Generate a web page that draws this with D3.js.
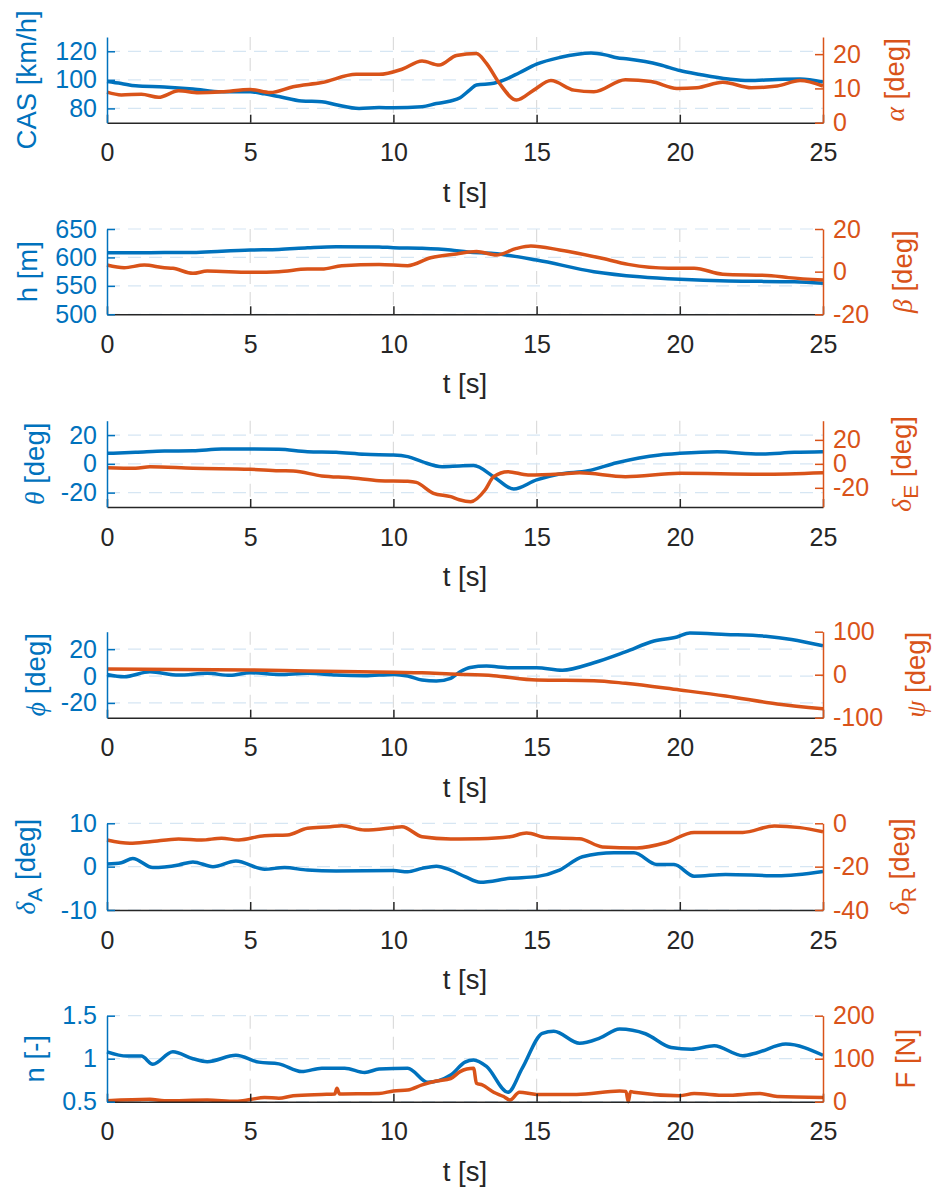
<!DOCTYPE html>
<html lang="en">
<head>
    <meta charset="UTF-8">
    <script src="https://d3js.org/d3.v7.min.js"></script>
    <title>Flight test</title>
    <style>
        body {
            margin: 0;
            overflow: hidden;
            background: white;
        }
        text {
            font-family: "Liberation Sans", Arial, sans-serif;
        }
    </style>
</head>
<body>
<script>
    const width = 933,
          height = 1192;

    const blue = '#0072BD',
          orange = '#D95319',
          dark = '#262626';

    // time axis
    const tDomain = [0, 25];
    const tTicks = [0, 5, 10, 15, 20, 25];
    const tLabel = 't [s]';

    // [t, value]
    const casData = [[0,98.9],[0.5,97.5],[1,95.8],[2,95],[3,93.6],[4,91.6],[5,91.6],[5.5,90.2],[6,88.3],[6.8,85.2],[7.5,84.7],[8,82.6],[8.8,80],[9.5,80.6],[10,80.5],[11,81.2],[11.5,83.4],[12,85.2],[12.33,87.5],[12.67,93],[12.9,96.4],[13.5,97.6],[13.85,99.8],[14.4,105],[15,111],[15.8,115.6],[16.9,118.8],[17.4,117.5],[17.8,115.5],[18.2,114.6],[19.3,110.6],[20,106.5],[20.7,103.8],[21.7,100.6],[22.4,99.5],[23.4,100.3],[24.2,100.6],[25,98.5]];
    const alphaData = [[0,8.9],[0.5,8.1],[1.2,8.3],[1.8,7.4],[2.5,9.3],[3.2,8.75],[4,9],[5,9.7],[5.7,8.8],[6.5,10.5],[7.5,11.7],[8.7,14.1],[9.5,14.1],[10.3,15.6],[11,18],[11.6,16.8],[12.2,19.6],[12.9,20.2],[13.25,17.3],[13.7,11.5],[14.3,6.6],[14.9,9.5],[15.5,12.3],[16.3,9.5],[17,9],[18.1,12.5],[19,12],[19.9,10],[20.6,10.2],[21.5,11.8],[22.5,10.2],[23.4,10.7],[24.2,12.3],[25,10.7]];

    const hData = [[0,608.3],[1,608.3],[2,608.5],[3,608.5],[4,611],[5,613],[6,614],[7,617],[8,619],[9.5,618.5],[10,617],[11,616],[12,613],[12.6,609.5],[13.5,607],[15,595.5],[17,575],[18.6,566],[20,561.5],[21.7,558.5],[24,557.3],[25,554.5]];
    const betaData = [[0,3.1],[0.6,1.85],[1.3,3.1],[2,1.85],[2.3,1.6],[3,-0.8],[3.5,0.3],[5,-0.3],[6,0],[7,1.2],[7.5,1.2],[8.2,2.8],[9.5,3.4],[10.5,2.8],[11.3,6.5],[12.2,8.3],[12.9,9.4],[13.6,7.8],[14.3,10.9],[14.8,12],[15.8,10.2],[17.2,6.5],[18.2,3.4],[19.6,1.6],[20.5,1.6],[21.5,-1.2],[23.2,-1.9],[23.8,-2.8],[25,-3.9]];

    const thetaData = [[0,7.3],[1,8],[2,8.9],[3,9.1],[4,10.3],[5,10.3],[6,10.1],[7,8.4],[8,8],[9,6.6],[10,6.2],[10.5,5],[11,1.5],[11.7,-2],[12.3,-1.5],[12.8,-1.2],[13.5,-8.9],[14.2,-17.5],[15,-11.2],[15.8,-7.1],[16.8,-4.8],[17.8,0.8],[19.3,6.2],[20,7.3],[21.3,8.4],[22.8,6.8],[24,8],[25,8.4]];
    const elevData = [[0,-3.2],[1,-3.7],[1.5,-2.4],[3,-3.7],[5,-4.5],[6,-5.7],[6.5,-5.9],[7.5,-10.1],[8.5,-11.6],[9.5,-14],[10.5,-14.5],[10.8,-15.5],[11.4,-24.6],[12,-27.4],[12.3,-30],[12.7,-31.6],[13.2,-21.8],[13.5,-10.7],[14,-6.5],[14.7,-9.3],[15.8,-8.5],[16.5,-7.4],[18.1,-10.7],[20,-7.9],[22.8,-8.7],[25,-7.4]];

    const phiData = [[0,1.2],[0.6,-0.5],[1.5,3.2],[2.5,0.7],[3.5,2],[4.3,0.5],[5,2.5],[6,1.2],[7,2],[8,0.7],[9,0.2],[10,1.2],[10.5,0],[11,-3],[11.5,-3.7],[12,-1.7],[12.33,3.2],[12.68,6.4],[13.25,7.4],[14.07,6.2],[15,6.2],[15.9,4.4],[17,9.9],[18.1,18],[19.1,26.1],[19.9,29.1],[20.35,32],[21.6,31],[23,29.6],[23.9,27.2],[25,22.5]];
    const psiData = [[0,13.3],[5,11],[7,8.6],[10,5.6],[11,4.7],[12,1.6],[13.5,-2.3],[15,-12.3],[17,-14],[18.1,-20],[20,-35.6],[21.6,-49.5],[23.4,-68],[25,-79]];

    const ailData = [[0,0.6],[0.5,0.9],[0.9,1.9],[1.6,-0.2],[2.5,0.4],[3,1.1],[3.7,0],[4.5,1.3],[5.5,-0.6],[6.2,-0.2],[7,-0.8],[8,-1],[10,-0.9],[10.5,-1.2],[11,-0.4],[11.5,0.1],[12,-0.8],[12.5,-2.3],[13.03,-3.6],[14.07,-2.7],[15,-2.3],[15.8,-0.8],[16.6,2.3],[17.7,3.2],[18.4,3.2],[19.2,0.5],[19.8,0.5],[20.5,-2.2],[21.6,-1.8],[23.4,-2.1],[25,-1.1]];
    const rudData = [[0,-7.7],[0.8,-9.2],[1.5,-8.5],[2.5,-7.2],[3.3,-7.7],[4,-6.9],[4.6,-7.7],[5.5,-5.7],[6.3,-5.4],[7,-2.3],[7.8,-1.6],[8.2,-1.1],[9,-3.1],[10,-2],[10.3,-1.6],[11,-6.2],[12,-7.2],[13,-7.1],[14.07,-6.2],[14.65,-4.5],[15.35,-6.6],[16.5,-7.1],[17.3,-10.9],[18.5,-11.4],[19.5,-9],[20.5,-4.2],[22.2,-4.2],[23.3,-1.2],[24.2,-2],[25,-3.9]];

    const nData = [[0,1.08],[0.7,1.03],[1.2,1.03],[1.6,0.935],[2.3,1.08],[3,1.0],[3.5,0.965],[4.5,1.04],[5.3,0.96],[6,0.94],[6.8,0.85],[7.5,0.89],[8.3,0.89],[9,0.84],[9.5,0.88],[10.5,0.89],[11.2,0.725],[12,0.81],[12.5,0.96],[12.8,0.985],[13.25,0.91],[14,0.61],[14.5,0.89],[15.2,1.295],[15.6,1.32],[16.5,1.18],[17.2,1.24],[17.9,1.345],[18.8,1.29],[19.7,1.13],[20.4,1.11],[21.2,1.15],[22.2,1.035],[22.7,1.07],[23.7,1.17],[25,1.04]];
    const forceData = [[0,2],[1.5,5.6],[2,2],[3.5,4],[4.5,1],[5,5],[5.5,10],[6,8],[6.5,14],[7.5,17],[7.95,18],[8.03,31],[8.12,18],[9,18.6],[9.5,19],[10,25],[10.5,27],[11,39],[11.5,48],[12,54],[12.33,70],[12.56,76],[12.8,78],[12.9,43],[13.1,39],[13.5,22],[13.85,12],[14.07,4],[14.4,22],[15,17],[16.4,17],[17.9,25],[18.12,24],[18.2,0],[18.28,24],[18.4,22],[20,14],[20.5,19],[21.6,15],[22.8,19],[23.4,12],[25,10]];

    // y domains and ticks, left / right
    const leftDomains = [[70,130],[500,650],[-30,30],[-31,33],[-10,10],[0.5,1.5]];
    const rightDomains = [[0,25],[-20,20],[-36,36],[-100,100],[-40,0],[0,200]];
    const leftTicks = [[80,100,120],[500,550,600,650],[-20,0,20],[-20,0,20],[-10,0,10],[0.5,1,1.5]];
    const rightTicks = [[0,10,20],[-20,0,20],[-20,0,20],[-100,0,100],[-40,-20,0],[0,100,200]];

    // axis labels: pieces of text, greek / subscript flagged
    const leftLabels = [
        [{t: 'CAS [km/h]'}],
        [{t: 'h [m]'}],
        [{t: 'θ', greek: true}, {t: ' [deg]'}],
        [{t: 'ϕ', greek: true}, {t: ' [deg]'}],
        [{t: 'δ', greek: true}, {t: 'A', sub: true}, {t: ' [deg]', up: true}],
        [{t: 'n [-]'}]
    ];
    const rightLabels = [
        [{t: 'α', greek: true}, {t: ' [deg]'}],
        [{t: 'β', greek: true}, {t: ' [deg]'}],
        [{t: 'δ', greek: true}, {t: 'E', sub: true}, {t: ' [deg]', up: true}],
        [{t: 'ψ', greek: true}, {t: ' [deg]'}],
        [{t: 'δ', greek: true}, {t: 'R', sub: true}, {t: ' [deg]', up: true}],
        [{t: 'F [N]'}]
    ];

    const leftSeries = [casData, hData, thetaData, phiData, ailData, nData];
    const rightSeries = [alphaData, betaData, elevData, psiData, rudData, forceData];

    // layout
    const tops = [37, 229, 420.7, 631.7, 823.3, 1015.7];
    const bottoms = [122.7, 314.3, 507, 717.7, 910, 1101.7];
    const leftLabelX = [36, 37, 44, 45, 35, 44];
    const rightLabelX = [904, 912, 911, 925, 909, 915];

    // plain hyphen for negatives, like the original
    const fmt = d => String(d);

    const svg = d3.select('body')
        .append('svg')
        .attr('width', width)
        .attr('height', height)
        .style('background', 'white');

    const x = d3.scaleLinear()
        .domain(tDomain)
        .range([107, 823]);

    function addLabel(g, parts, lx, ly, color) {
        const txt = g.append('text')
            .attr('transform', `translate(${lx},${ly}) rotate(-90)`)
            .attr('text-anchor', 'middle')
            .attr('fill', color)
            .style('font-size', '27.5px');
        parts.forEach(p => {
            const s = txt.append('tspan').text(p.t);
            if (p.greek) {
                s.style('font-family', '"Liberation Serif", "DejaVu Serif", serif')
                 .style('font-style', 'italic');
            }
            if (p.sub) s.attr('dy', 7).style('font-size', '21px');
            if (p.up) s.attr('dy', -7);
        });
    }

    function styleAxis(g, color) {
        g.attr('font-size', 25)
         .attr('font-family', '"Liberation Sans", Arial, sans-serif');
        g.select('.domain').attr('stroke', color).attr('stroke-width', 1.5);
        g.selectAll('.tick line').attr('stroke', color).attr('stroke-width', 1.5);
        g.selectAll('.tick text').attr('fill', color);
    }

    leftSeries.forEach((lData, i) => {
        const top = tops[i], bottom = bottoms[i];
        const yL = d3.scaleLinear().domain(leftDomains[i]).range([bottom, top]);
        const yR = d3.scaleLinear().domain(rightDomains[i]).range([bottom, top]);
        const g = svg.append('g');

        // grid
        g.selectAll('line.vgrid')
            .data(tTicks.slice(1, -1))
            .enter()
            .append('line')
            .attr('class', 'vgrid')
            .attr('x1', d => x(d)).attr('x2', d => x(d))
            .attr('y1', top).attr('y2', bottom)
            .attr('stroke', '#dcdcdc')
            .attr('stroke-width', 1.2)
            .attr('stroke-dasharray', '13,8');

        g.selectAll('line.hgrid')
            .data(leftTicks[i])
            .enter()
            .append('line')
            .attr('class', 'hgrid')
            .attr('x1', x(0)).attr('x2', x(25))
            .attr('y1', d => yL(d)).attr('y2', d => yL(d))
            .attr('stroke', '#d6e6f3')
            .attr('stroke-width', 1.2)
            .attr('stroke-dasharray', '13,8');

        const lineL = d3.line()
            .x(d => x(d[0]))
            .y(d => yL(d[1]))
            .curve(d3.curveMonotoneX);
        const lineR = d3.line()
            .x(d => x(d[0]))
            .y(d => yR(d[1]))
            .curve(d3.curveMonotoneX);

        g.append('path')
            .datum(lData)
            .attr('fill', 'none')
            .attr('stroke', blue)
            .attr('stroke-width', 3.5)
            .attr('stroke-linejoin', 'round')
            .attr('d', lineL);

        g.append('path')
            .datum(rightSeries[i])
            .attr('fill', 'none')
            .attr('stroke', orange)
            .attr('stroke-width', 3.5)
            .attr('stroke-linejoin', 'round')
            .attr('d', lineR);

        // axes
        const xAxisG = g.append('g')
            .attr('transform', `translate(0,${bottom})`)
            .call(d3.axisBottom(x).tickValues(tTicks).tickSizeInner(-8).tickSizeOuter(0).tickPadding(21).tickFormat(fmt));
        styleAxis(xAxisG, dark);

        const lAxisG = g.append('g')
            .attr('transform', `translate(${x(0)},0)`)
            .call(d3.axisLeft(yL).tickValues(leftTicks[i]).tickSizeInner(-8).tickSizeOuter(0).tickPadding(10).tickFormat(fmt));
        styleAxis(lAxisG, blue);

        const rAxisG = g.append('g')
            .attr('transform', `translate(${x(25)},0)`)
            .call(d3.axisRight(yR).tickValues(rightTicks[i]).tickSizeInner(-8).tickSizeOuter(0).tickPadding(10).tickFormat(fmt));
        styleAxis(rAxisG, orange);

        // labels
        g.append('text')
            .attr('x', 465)
            .attr('y', bottom + 79)
            .attr('text-anchor', 'middle')
            .attr('fill', dark)
            .style('font-size', '27.5px')
            .text(tLabel);

        addLabel(g, leftLabels[i], leftLabelX[i], (top + bottom) / 2, blue);
        addLabel(g, rightLabels[i], rightLabelX[i], (top + bottom) / 2, orange);
    });
</script>
</body>
</html>
